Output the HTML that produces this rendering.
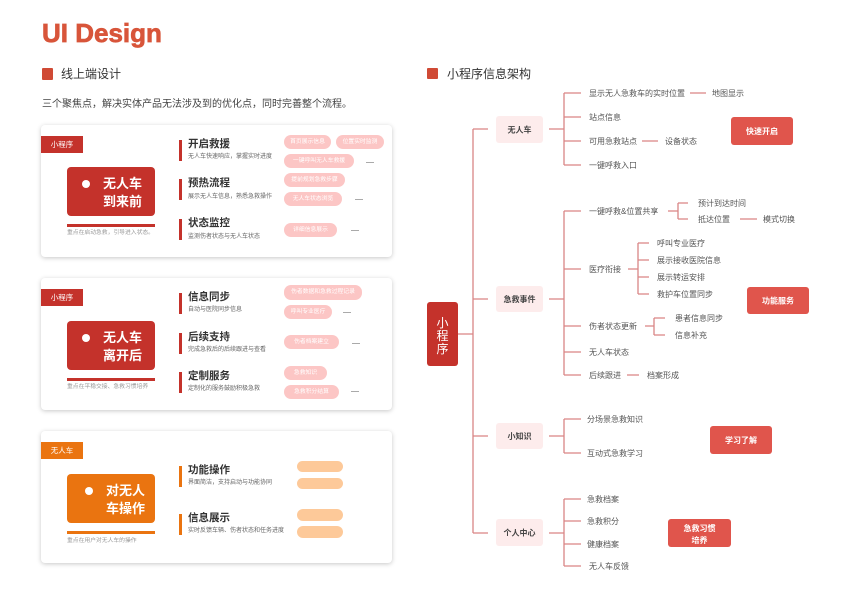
<!DOCTYPE html>
<html><head><meta charset="utf-8">
<style>
*{margin:0;padding:0;box-sizing:border-box}
body{width:849px;height:600px;background:#fff;position:relative;overflow:hidden;font-family:"Liberation Sans","Noto Sans CJK SC",sans-serif}
.a{position:absolute;white-space:nowrap}
.card{position:absolute;left:41px;width:351px;height:132px;background:#fff;border-radius:4px;box-shadow:0 1px 5px rgba(0,0,0,0.22)}
.tag{position:absolute;left:41px;width:42px;height:17px;color:#fff;font-size:7.5px;line-height:17px;text-align:center}
.main{position:absolute;left:67px;width:88px;height:49px;border-radius:4px}
.dot{position:absolute;left:82px;width:8px;height:8px;border-radius:50%;background:#fff}
.mt{position:absolute;color:#fff;font-size:13px;font-weight:bold;line-height:13px;white-space:nowrap}
.bar{position:absolute;left:67px;width:88px;height:3px}
.cap{position:absolute;left:67px;font-size:5.8px;line-height:6px;color:#999;white-space:nowrap}
.vb{position:absolute;left:179px;width:2.5px;height:21px}
.tt{position:absolute;left:188px;font-size:10.5px;line-height:11px;font-weight:bold;color:#333;white-space:nowrap}
.st{position:absolute;left:188px;font-size:6px;line-height:6px;color:#666;white-space:nowrap}
.pill{position:absolute;left:284px;height:14px;border-radius:7px;background:#fcc6c5;color:#fff;font-size:5.8px;line-height:14px;text-align:center;white-space:nowrap}
.dash{position:absolute;height:1px;width:8px;background:#aaa}
.op{position:absolute;left:297px;width:46px;height:11px;border-radius:6px;background:#fdc999}
.red{background:#c4322b}
.org{background:#ea7410}
</style></head><body>

<div class="a" style="left:42px;top:20px;font-size:26px;line-height:26px;font-weight:bold;color:#d8553a;-webkit-text-stroke:0.7px #d8553a">UI Design</div>
<div class="a" style="left:42px;top:68px;width:11px;height:12px;background:#d04a35;border-radius:1px"></div>
<div class="a" style="left:61px;top:68px;font-size:12px;line-height:12px;color:#333">线上端设计</div>
<div class="a" style="left:42px;top:100px;font-size:10px;line-height:10px;color:#444">三个聚焦点，解决实体产品无法涉及到的优化点，同时完善整个流程。</div>

<!-- Card 1 -->
<div class="card" style="top:125px"></div>
<div class="tag red" style="top:136px">小程序</div>
<div class="main red" style="top:167px"></div>
<div class="dot" style="top:180px"></div>
<div class="mt" style="left:103px;top:177px">无人车</div>
<div class="mt" style="left:103px;top:195px">到来前</div>
<div class="bar red" style="top:224px"></div>
<div class="cap" style="top:230px">重点在启动急救，引导进入状态。</div>
<div class="vb red" style="top:140px"></div>
<div class="tt" style="top:139px">开启救援</div>
<div class="st" style="top:154px">无人车快速响应，掌握实时进度</div>
<div class="vb red" style="top:179px"></div>
<div class="tt" style="top:178px">预热流程</div>
<div class="st" style="top:194px">展示无人车信息，熟悉急救操作</div>
<div class="vb red" style="top:219px"></div>
<div class="tt" style="top:218px">状态监控</div>
<div class="st" style="top:234px">监测伤者状态与无人车状态</div>
<div class="pill" style="top:135px;width:47px">首页展示信息</div>
<div class="pill" style="top:135px;left:336px;width:48px">位置实时监测</div>
<div class="pill" style="top:154px;width:70px">一键呼叫无人车救援</div>
<div class="dash" style="left:366px;top:162px"></div>
<div class="pill" style="top:173px;width:61px">提前规划急救步骤</div>
<div class="pill" style="top:192px;width:58px">无人车状态浏览</div>
<div class="dash" style="left:355px;top:199px"></div>
<div class="pill" style="top:223px;width:53px">详细信息展示</div>
<div class="dash" style="left:351px;top:230px"></div>

<!-- Card 2 -->
<div class="card" style="top:278px"></div>
<div class="tag red" style="top:289px">小程序</div>
<div class="main red" style="top:321px"></div>
<div class="dot" style="top:334px"></div>
<div class="mt" style="left:103px;top:331px">无人车</div>
<div class="mt" style="left:103px;top:349px">离开后</div>
<div class="bar red" style="top:378px"></div>
<div class="cap" style="top:384px">重点在平稳交接、急救习惯培养</div>
<div class="vb red" style="top:293px"></div>
<div class="tt" style="top:292px">信息同步</div>
<div class="st" style="top:307px">自动与医院同步信息</div>
<div class="vb red" style="top:333px"></div>
<div class="tt" style="top:332px">后续支持</div>
<div class="st" style="top:347px">完成急救后的后续跟进与查看</div>
<div class="vb red" style="top:372px"></div>
<div class="tt" style="top:371px">定制服务</div>
<div class="st" style="top:386px">定制化的服务鼓励积极急救</div>
<div class="pill" style="top:285px;height:15px;line-height:15px;width:78px">伤者数据和急救过程记录</div>
<div class="pill" style="top:305px;width:48px">呼叫专业医疗</div>
<div class="dash" style="left:343px;top:312px"></div>
<div class="pill" style="top:335px;width:55px">伤者档案建立</div>
<div class="dash" style="left:352px;top:343px"></div>
<div class="pill" style="top:366px;width:43px">急救知识</div>
<div class="pill" style="top:385px;width:55px">急救积分结算</div>
<div class="dash" style="left:351px;top:391px"></div>

<!-- Card 3 -->
<div class="card" style="top:431px"></div>
<div class="tag org" style="top:442px">无人车</div>
<div class="main org" style="top:474px"></div>
<div class="dot" style="top:487px;left:85px"></div>
<div class="mt" style="left:106px;top:484px">对无人</div>
<div class="mt" style="left:106px;top:502px">车操作</div>
<div class="bar org" style="top:531px"></div>
<div class="cap" style="top:538px">重点在用户对无人车的操作</div>
<div class="vb org" style="top:466px"></div>
<div class="tt" style="top:465px">功能操作</div>
<div class="st" style="top:480px">界面简洁，支持启动与功能协同</div>
<div class="vb org" style="top:514px"></div>
<div class="tt" style="top:513px">信息展示</div>
<div class="st" style="top:528px">实时反馈车辆、伤者状态和任务进度</div>
<div class="op" style="top:461px"></div>
<div class="op" style="top:478px"></div>
<div class="op" style="top:509px;height:12px"></div>
<div class="op" style="top:526px;height:12px"></div>

<!-- Right tree -->
<svg class="a" style="left:0;top:0" width="849" height="600" viewBox="0 0 849 600" font-family="Liberation Sans, Noto Sans CJK SC, sans-serif">
<rect x="427" y="68" width="11" height="11" rx="1" fill="#d04a35"/>
<text x="447" y="78" font-size="12" fill="#333">小程序信息架构</text>

<g stroke="#d98585" stroke-width="1.3" fill="none">
<path d="M458 334H473M473 129V533M473 129H488M473 299H488M473 436H488M473 533H488"/>
<path d="M549 129H564M564 93V165M564 93H581M564 117H581M564 141H581M564 165H581M690 93H706M642 141H658"/>
<path d="M549 299H564M564 211V375M564 211H581M564 269H581M564 326H581M564 352H581M564 375H581"/>
<path d="M668 211H678M678 203V219M678 203H688M678 219H688M740 219H757"/>
<path d="M628 269H638M638 243V294M638 243H649M638 260H649M638 277H649M638 294H649"/>
<path d="M645 326H654M654 318V335M654 318H665M654 335H665M627 375H639"/>
<path d="M549 436H564M564 419V453M564 419H581M564 453H581"/>
<path d="M549 533H564M564 499V566M564 499H581M564 521H581M564 544H581M564 566H581"/>
</g>

<rect x="427" y="302" width="31" height="64" rx="3" fill="#c4322b"/>
<g fill="#fff" font-size="12" text-anchor="middle">
<text x="442.5" y="327">小</text>
<text x="442.5" y="340">程</text>
<text x="442.5" y="353">序</text>
</g>

<g fill="#fdecec">
<rect x="496" y="116" width="47" height="27" rx="3"/>
<rect x="496" y="286" width="47" height="26" rx="3"/>
<rect x="496" y="423" width="47" height="26" rx="3"/>
<rect x="496" y="519" width="47" height="27" rx="3"/>
</g>
<g fill="#444" font-size="8" font-weight="bold" text-anchor="middle">
<text x="519.5" y="132.5">无人车</text>
<text x="519.5" y="302">急救事件</text>
<text x="519.5" y="439">小知识</text>
<text x="519.5" y="535.5">个人中心</text>
</g>

<g fill="#555" font-size="8">
<text x="589" y="96">显示无人急救车的实时位置</text>
<text x="712" y="96">地图显示</text>
<text x="589" y="120">站点信息</text>
<text x="589" y="144">可用急救站点</text>
<text x="665" y="144">设备状态</text>
<text x="589" y="168">一键呼救入口</text>

<text x="589" y="214">一键呼救&amp;位置共享</text>
<text x="698" y="206">预计到达时间</text>
<text x="698" y="222">抵达位置</text>
<text x="763" y="222">模式切换</text>
<text x="589" y="272">医疗衔接</text>
<text x="657" y="246">呼叫专业医疗</text>
<text x="657" y="263">展示接收医院信息</text>
<text x="657" y="280">展示转运安排</text>
<text x="657" y="297">救护车位置同步</text>
<text x="589" y="329">伤者状态更新</text>
<text x="675" y="321">患者信息同步</text>
<text x="675" y="338">信息补充</text>
<text x="589" y="355">无人车状态</text>
<text x="589" y="378">后续跟进</text>
<text x="647" y="378">档案形成</text>

<text x="587" y="422">分场景急救知识</text>
<text x="587" y="456">互动式急救学习</text>

<text x="587" y="502">急救档案</text>
<text x="587" y="524">急救积分</text>
<text x="587" y="547">健康档案</text>
<text x="589" y="569">无人车反馈</text>
</g>

<g fill="#e0554c">
<rect x="731" y="117" width="62" height="28" rx="3"/>
<rect x="747" y="287" width="62" height="27" rx="3"/>
<rect x="710" y="426" width="62" height="28" rx="3"/>
<rect x="668" y="519" width="63" height="28" rx="3"/>
</g>
<g fill="#fff" font-size="8" font-weight="bold" text-anchor="middle">
<text x="762" y="134">快速开启</text>
<text x="778" y="303.5">功能服务</text>
<text x="741" y="443">学习了解</text>
<text x="699.5" y="531">急救习惯</text>
<text x="699.5" y="543">培养</text>
</g>
</svg>
</body></html>
